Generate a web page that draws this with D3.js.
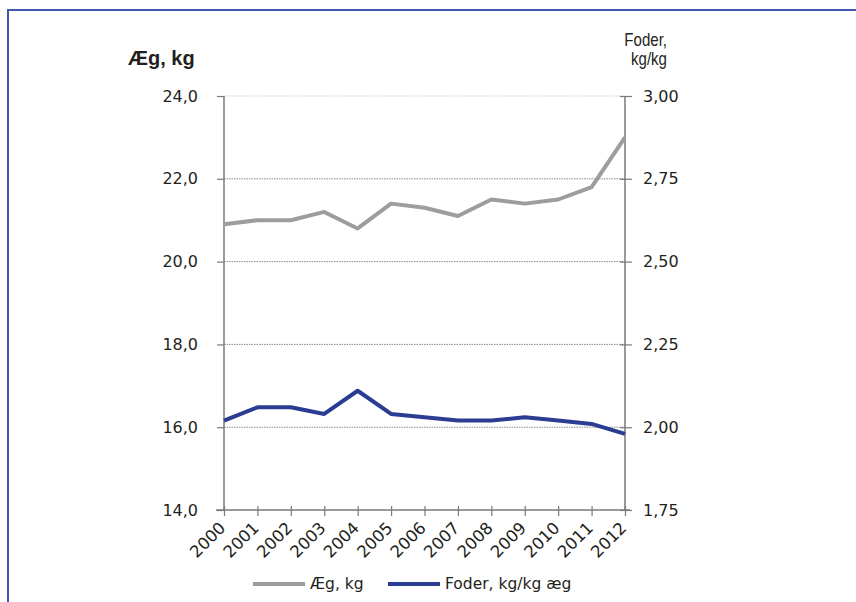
<!DOCTYPE html>
<html>
<head>
<meta charset="utf-8">
<script src="https://cdn.jsdelivr.net/npm/d3@7"></script>
<style>
    body { margin: 0; background: #fff; }
    svg { display: block; }
    text { fill: #231f20; }
</style>
</head>
<body>
<svg id="chart"></svg>
<script>
// data
const years = [2000, 2001, 2002, 2003, 2004, 2005, 2006, 2007, 2008, 2009, 2010, 2011, 2012];
const eggKg = [20.9, 21.0, 21.0, 21.2, 20.8, 21.4, 21.3, 21.1, 21.5, 21.4, 21.5, 21.8, 23.0];
const feedKg = [2.02, 2.06, 2.06, 2.04, 2.11, 2.04, 2.03, 2.02, 2.02, 2.03, 2.02, 2.01, 1.98];
const leftTicks = [14, 16, 18, 20, 22, 24];
const rightTicks = [1.75, 2.00, 2.25, 2.50, 2.75, 3.00];
const legendLabels = ["Æg, kg", "Foder, kg/kg æg"];

const width = 856, height = 602;
const margin = { top: 96, right: 231, bottom: 92, left: 224 };
const font = "'DejaVu Sans', Verdana, sans-serif";

const svg = d3.select("#chart")
    .attr("width", width)
    .attr("height", height);

// frame lines, top and left
svg.append("path")
    .attr("d", `M8,${height} L8,10 L${width},10`)
    .attr("fill", "none")
    .attr("stroke", "#3f5aab")
    .attr("stroke-width", 2);

const x = d3.scaleLinear()
    .domain([2000, 2012])
    .range([margin.left, width - margin.right]);

const yLeft = d3.scaleLinear()
    .domain([14, 24])
    .range([height - margin.bottom, margin.top]);

const yRight = d3.scaleLinear()
    .domain([1.75, 3.0])
    .range([height - margin.bottom, margin.top]);

// gridlines
svg.append("g")
    .selectAll("line")
    .data(leftTicks.slice(1))
    .join("line")
    .attr("x1", margin.left)
    .attr("x2", width - margin.right)
    .attr("y1", d => yLeft(d))
    .attr("y2", d => yLeft(d))
    .attr("stroke", d => d === 24 ? "#cfcfcf" : "#8a8a8a")
    .attr("stroke-width", 1)
    .attr("stroke-dasharray", "1.5,1");

// left axis
const leftAxis = svg.append("g")
    .attr("transform", `translate(${margin.left},0)`)
    .call(d3.axisLeft(yLeft).tickValues(leftTicks).tickSize(7).tickPadding(19)
        .tickFormat(d => d3.format(".1f")(d).replace(".", ",")));

// right axis
const rightAxis = svg.append("g")
    .attr("transform", `translate(${width - margin.right},0)`)
    .call(d3.axisRight(yRight).tickValues(rightTicks).tickSize(7).tickPadding(11)
        .tickFormat(d => d3.format(".2f")(d).replace(".", ",")));
rightAxis.selectAll(".tick line").attr("x1", -5);

// bottom axis
const bottomAxis = svg.append("g")
    .attr("transform", `translate(0,${height - margin.bottom})`)
    .call(d3.axisBottom(x).tickValues(years).tickSize(6).tickFormat(d3.format("d")));
bottomAxis.selectAll(".tick line").attr("y1", -4);

[leftAxis, rightAxis, bottomAxis].forEach(a => {
    a.select(".domain").attr("stroke", "#7a7a7a").attr("stroke-width", 1.5);
    a.selectAll(".tick line").attr("stroke", "#7a7a7a").attr("stroke-width", 1.2);
    a.selectAll(".tick text")
        .attr("font-family", font)
        .attr("font-size", 16)
        .attr("fill", "#231f20");
});
bottomAxis.selectAll(".tick text")
    .attr("text-anchor", "end")
    .attr("dy", 0)
    .attr("y", 0)
    .attr("font-size", 16.5)
    .attr("transform", "translate(2,19) rotate(-45)");

leftAxis.select(".domain").attr("d", `M0,${yLeft(14)}V${yLeft(24)}`);
rightAxis.select(".domain").attr("d", `M0,${yRight(1.75)}V${yRight(3)}`);
bottomAxis.select(".domain").attr("d", `M${x(2000) - 8},0H${x(2012) + 5}`);

// lines
const eggLine = d3.line()
    .x((d, i) => x(years[i]))
    .y(d => yLeft(d));

const feedLine = d3.line()
    .x((d, i) => x(years[i]))
    .y(d => yRight(d));

svg.append("path")
    .datum(eggKg)
    .attr("d", eggLine)
    .attr("fill", "none")
    .attr("stroke", "#9d9d9d")
    .attr("stroke-width", 4)
    .attr("stroke-linejoin", "round");

svg.append("path")
    .datum(feedKg)
    .attr("d", feedLine)
    .attr("fill", "none")
    .attr("stroke", "#2b3c93")
    .attr("stroke-width", 4)
    .attr("stroke-linejoin", "round");

// axis titles
svg.append("text")
    .attr("x", 128)
    .attr("y", 65)
    .attr("font-family", "'Liberation Sans', Arial, sans-serif")
    .attr("font-weight", "bold")
    .attr("font-size", 20)
    .text("Æg, kg");

svg.append("text")
    .attr("text-anchor", "end")
    .attr("transform", "translate(667,0) scale(0.86,1)")
    .attr("font-family", "'Liberation Sans', sans-serif")
    .attr("font-size", 17.5)
    .selectAll("tspan")
    .data(["Foder,", "kg/kg"])
    .join("tspan")
    .attr("x", 0)
    .attr("y", (d, i) => 46 + i * 19)
    .text(d => d);

// legend
const legendColors = ["#9d9d9d", "#2b3c93"];
const legendX = [253, 388];
const legend = svg.append("g")
    .selectAll("g")
    .data(legendLabels)
    .join("g")
    .attr("transform", (d, i) => `translate(${legendX[i]},584)`);

legend.append("line")
    .attr("x1", 0)
    .attr("x2", 52)
    .attr("stroke", (d, i) => legendColors[i])
    .attr("stroke-width", 4);

legend.append("text")
    .attr("x", 57)
    .attr("dy", "0.35em")
    .attr("font-family", font)
    .attr("font-size", 15.5)
    .text(d => d);
</script>
</body>
</html>
